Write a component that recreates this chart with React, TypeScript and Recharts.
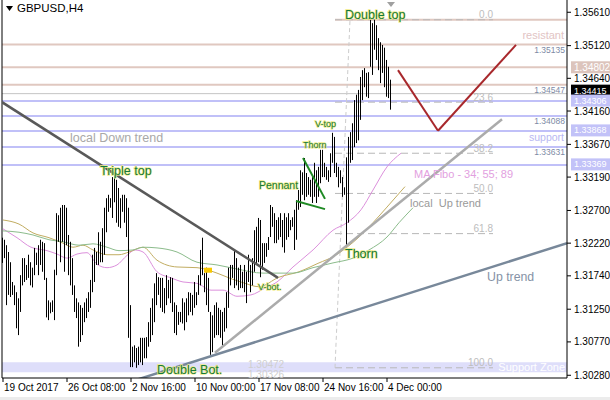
import {
  Bar,
  ComposedChart,
  Line,
  ReferenceArea,
  ReferenceDot,
  ReferenceLine,
  XAxis,
  YAxis,
} from "recharts";

// GBPUSD H4 bars from 19 Oct 2017 00:00, one value per bar
const HIGHS = [
  1.3230, 1.3227, 1.3219, 1.3209, 1.3194, 1.3165, 1.3160, 1.3150, 1.3141, 1.3175,
  1.3200, 1.3200, 1.3190, 1.3205, 1.3194, 1.3186, 1.3215, 1.3208, 1.3219, 1.3227,
  1.3224, 1.3222, 1.3171, 1.3138, 1.3135, 1.3138, 1.3183, 1.3266, 1.3263, 1.3274,
  1.3278, 1.3278, 1.3274, 1.3234, 1.3224, 1.3200, 1.3160, 1.3141, 1.3135, 1.3131,
  1.3127, 1.3135, 1.3141, 1.3150, 1.3168, 1.3205, 1.3215, 1.3209, 1.3238, 1.3224,
  1.3244, 1.3274, 1.3288, 1.3293, 1.3288, 1.3319, 1.3322, 1.3315, 1.3303, 1.3288,
  1.3293, 1.3293, 1.3288, 1.3274, 1.3131, 1.3070, 1.3072, 1.3068, 1.3070, 1.3083,
  1.3083, 1.3083, 1.3084, 1.3106, 1.3127, 1.3141, 1.3163, 1.3178, 1.3172, 1.3171,
  1.3171, 1.3156, 1.3175, 1.3168, 1.3172, 1.3171, 1.3135, 1.3131, 1.3121, 1.3121,
  1.3141, 1.3135, 1.3141, 1.3150, 1.3149, 1.3146, 1.3165, 1.3150, 1.3175, 1.3212,
  1.3230, 1.3178, 1.3186, 1.3171, 1.3121, 1.3116, 1.3131, 1.3135, 1.3127, 1.3124,
  1.3121, 1.3127, 1.3150, 1.3186, 1.3190, 1.3190, 1.3212, 1.3200, 1.3186, 1.3190,
  1.3180, 1.3190, 1.3180, 1.3205, 1.3190, 1.3200, 1.3241, 1.3246, 1.3259, 1.3256,
  1.3222, 1.3222, 1.3222, 1.3231, 1.3278, 1.3275, 1.3266, 1.3256, 1.3260, 1.3266,
  1.3256, 1.3266, 1.3260, 1.3266, 1.3256, 1.3260, 1.3271, 1.3285, 1.3300, 1.3329,
  1.3326, 1.3347, 1.3325, 1.3319, 1.3315, 1.3319, 1.3340, 1.3329, 1.3334, 1.3359,
  1.3359, 1.3340, 1.3334, 1.3329, 1.3354, 1.3384, 1.3378, 1.3340, 1.3334, 1.3329,
  1.3319, 1.3304, 1.3348, 1.3378, 1.3385, 1.3398, 1.3432, 1.3440, 1.3447, 1.3466,
  1.3476, 1.3479, 1.3472, 1.3473, 1.3550, 1.3545, 1.3550, 1.3542, 1.3523, 1.3517,
  1.3513, 1.3509, 1.3491, 1.3481, 1.3462,
];
const LOWS = [
  1.3193, 1.3200, 1.3131, 1.3146, 1.3143, 1.3146, 1.3131, 1.3097, 1.3087, 1.3121,
  1.3160, 1.3165, 1.3168, 1.3171, 1.3160, 1.3157, 1.3175, 1.3190, 1.3175, 1.3190,
  1.3180, 1.3168, 1.3113, 1.3109, 1.3119, 1.3121, 1.3109, 1.3175, 1.3224, 1.3194,
  1.3224, 1.3180, 1.3219, 1.3175, 1.3160, 1.3146, 1.3121, 1.3112, 1.3070, 1.3077,
  1.3087, 1.3106, 1.3112, 1.3121, 1.3127, 1.3150, 1.3165, 1.3190, 1.3190, 1.3194,
  1.3194, 1.3205, 1.3238, 1.3268, 1.3274, 1.3259, 1.3282, 1.3252, 1.3246, 1.3244,
  1.3268, 1.3252, 1.3231, 1.3083, 1.3040, 1.3040, 1.3047, 1.3039, 1.3043, 1.3047,
  1.3043, 1.3053, 1.3053, 1.3070, 1.3077, 1.3087, 1.3106, 1.3131, 1.3146, 1.3127,
  1.3121, 1.3119, 1.3131, 1.3141, 1.3134, 1.3121, 1.3090, 1.3087, 1.3102, 1.3106,
  1.3104, 1.3094, 1.3106, 1.3116, 1.3121, 1.3116, 1.3127, 1.3131, 1.3146, 1.3160,
  1.3175, 1.3150, 1.3131, 1.3121, 1.3058, 1.3062, 1.3083, 1.3087, 1.3087, 1.3083,
  1.3072, 1.3092, 1.3097, 1.3127, 1.3160, 1.3171, 1.3156, 1.3160, 1.3153, 1.3156,
  1.3156, 1.3150, 1.3134, 1.3165, 1.3150, 1.3160, 1.3180, 1.3190, 1.3194, 1.3172,
  1.3183, 1.3193, 1.3202, 1.3212, 1.3231, 1.3246, 1.3222, 1.3222, 1.3227, 1.3231,
  1.3216, 1.3208, 1.3227, 1.3231, 1.3241, 1.3246, 1.3212, 1.3227, 1.3271, 1.3275,
  1.3293, 1.3285, 1.3290, 1.3293, 1.3290, 1.3281, 1.3290, 1.3281, 1.3290, 1.3310,
  1.3319, 1.3319, 1.3315, 1.3312, 1.3319, 1.3340, 1.3325, 1.3319, 1.3304, 1.3310,
  1.3290, 1.3293, 1.3219, 1.3252, 1.3340, 1.3344, 1.3363, 1.3369, 1.3373, 1.3403,
  1.3432, 1.3451, 1.3437, 1.3435, 1.3481, 1.3469, 1.3506, 1.3491, 1.3476, 1.3457,
  1.3472, 1.3451, 1.3437, 1.3435, 1.3418,
];

const DATE_TICKS = [0, 32, 64, 96, 128, 160, 192];
const DATE_LABELS = [
  "19 Oct 2017",
  "26 Oct 08:00",
  "2 Nov 16:00",
  "10 Nov 00:00",
  "17 Nov 08:00",
  "24 Nov 16:00",
  "4 Dec 00:00",
];
const PRICE_TICKS = [
  1.3028, 1.3077, 1.3125, 1.3174, 1.3222, 1.327, 1.3319, 1.3367, 1.3416, 1.3464, 1.3512, 1.3561,
];

// MA Fibo 34 / 55 / 89 as [bar, price]
const MA34 = [
  [0, 1.3243], [7, 1.323], [14, 1.3216], [22, 1.3211], [27, 1.3206], [32, 1.32], [37, 1.3206],
  [42, 1.3208], [47, 1.3191], [52, 1.3186], [57, 1.319], [62, 1.3204], [66, 1.3212], [70, 1.3209],
  [77, 1.318], [84, 1.3171], [90, 1.3165], [97, 1.3163], [104, 1.3153], [110, 1.3153],
  [117, 1.3144], [124, 1.3146], [131, 1.3156], [137, 1.3165], [145, 1.3187], [155, 1.3212],
  [165, 1.3241], [172, 1.3252], [179, 1.3271], [185, 1.33], [192, 1.3334], [199, 1.3354],
];
const MA55 = [
  [0, 1.3256], [8, 1.325], [15, 1.3237], [23, 1.323], [30, 1.3222], [35, 1.3216], [40, 1.3219],
  [45, 1.3212], [52, 1.3205], [58, 1.3205], [63, 1.3209], [70, 1.3216], [77, 1.3197], [87, 1.3187],
  [97, 1.3186], [107, 1.3178], [113, 1.3171], [120, 1.3164], [128, 1.3158], [138, 1.3172],
  [148, 1.318], [158, 1.3193], [165, 1.3202], [172, 1.3216], [178, 1.3231], [185, 1.3252],
  [192, 1.3275], [201, 1.3305],
];
const MA89 = [
  [0, 1.324], [8, 1.3238], [15, 1.3234], [23, 1.3227], [30, 1.3224], [38, 1.3219], [45, 1.3221],
  [52, 1.3216], [58, 1.3211], [65, 1.3212], [70, 1.3216], [77, 1.3215], [87, 1.3209], [97, 1.3194],
  [107, 1.319], [117, 1.3184], [130, 1.3178], [145, 1.3178], [155, 1.3186], [165, 1.3193],
  [175, 1.32], [183, 1.3212], [192, 1.3231], [198, 1.3252], [205, 1.3274],
];

const RESIST_LEVELS = [1.35135, 1.34802, 1.34547];
const SUPPORT_LEVELS = [1.34306, 1.34088, 1.33868, 1.33631, 1.33369];
const BID = 1.34415;
const SUPPORT_ZONE = [1.30326, 1.30472];
const INLINE_TAGS = [1.35135, 1.34547, 1.34088, 1.33631];
const LAVENDER_TAGS = [1.34306, 1.33868, 1.33369];
const PINK_TAG = 1.34802;

// Fibo from the 24 Nov low to the double top
const FIB_ANCHORS = [[166, 1.3039], [173.5, 1.355]];
const FIB_END = 245;
const FIB_NAMES = ["0.0", "23.6", "38.2", "50.0", "61.8", "100.0"];
const FIB_PRICES = [1.355, 1.3429, 1.3354, 1.3295, 1.3236, 1.3039];

// hand-drawn lines, [bar, price]
const DOWN_TREND = [[-0.5, 1.3429], [137.5, 1.3171]];
const UP_TREND = [[61, 1.3016], [282, 1.3222]];
const LOCAL_UP = [[106, 1.3061], [249.5, 1.3404]];
const PROJECTION = [[197.5, 1.3476], [217.5, 1.3387], [256.5, 1.3513]];
const PENNANT_TOP = [[150, 1.3347], [161, 1.3287]];
const PENNANT_BOTTOM = [[146.5, 1.3284], [161, 1.3272]];

type NoteKind = "pattern" | "patternMid" | "patternSmall" | "gray" | "grayS" | "slate" | "ma";
const NOTES: { x: number; y: number; text: string; kind: NoteKind }[] = [
  { x: 171, y: 1.3557, text: "Double top", kind: "pattern" },
  { x: 48.5, y: 1.3328, text: "Triple top", kind: "pattern" },
  { x: 77, y: 1.3036, text: "Double Bot.", kind: "pattern" },
  { x: 171, y: 1.3206, text: "Thorn", kind: "pattern" },
  { x: 128, y: 1.3307, text: "Pennant", kind: "patternMid" },
  { x: 150, y: 1.3366, text: "Thorn", kind: "patternSmall" },
  { x: 156, y: 1.3397, text: "V-top", kind: "patternSmall" },
  { x: 127.5, y: 1.3158, text: "V-bot.", kind: "patternSmall" },
  { x: 33.5, y: 1.3376, text: "local Down trend", kind: "gray" },
  { x: 203.5, y: 1.3281, text: "local  Up trend", kind: "grayS" },
  { x: 242, y: 1.3172, text: "Up trend", kind: "slate" },
  { x: 205.5, y: 1.3324, text: "MA Fibo - 34; 55; 89", kind: "ma" },
];

const GREEN_TEXT = { fill: "#137a3e", stroke: "#f2ec8a", strokeWidth: 1.3, paintOrder: "stroke" as const };
const NOTE_STYLE: Record<NoteKind, Record<string, unknown>> = {
  pattern: { fontSize: 12.5, ...GREEN_TEXT },
  patternMid: { fontSize: 10.5, ...GREEN_TEXT },
  patternSmall: { fontSize: 9, ...GREEN_TEXT },
  gray: { fontSize: 12.5, fill: "#a8a8a8" },
  grayS: { fontSize: 11, fill: "#9a9a9a" },
  slate: { fontSize: 12.3, fill: "#8592a6" },
  ma: { fontSize: 11, fill: "#e2a0e0" },
};

const X_DOMAIN = [-0.5, 282];
const Y_DOMAIN = [1.3024, 1.3579];
const FONT = "'Liberation Sans', Arial, sans-serif";

const bars = HIGHS.map((h, i) => ({ i, range: [LOWS[i], h] }));
const toRows = (pts: number[][]) => pts.map(([i, v]) => ({ i, v }));
const seg = (a: number[], b: number[]) => [
  { x: a[0], y: a[1] },
  { x: b[0], y: b[1] },
];

const textAt =
  (text: string, style: object, anchor: "start" | "end", dx: number, dy: number) =>
  (p: { cx: number; cy: number }) => (
    <text
      x={p.cx + dx}
      y={p.cy + dy}
      textAnchor={anchor}
      dominantBaseline="central"
      style={{ fontFamily: FONT, whiteSpace: "pre", ...style }}
    >
      {text}
    </text>
  );

const boxAt =
  (text: string, fill: string, shift = 0, size = 10) =>
  (p: { cx: number; cy: number }) => (
    <g>
      <rect x={p.cx + 4} y={p.cy - 6 + shift} width={40} height={12} fill={fill} />
      <text
        x={p.cx + 7}
        y={p.cy + shift}
        dominantBaseline="central"
        style={{ fontFamily: FONT, fontSize: size, fill: "#fff" }}
      >
        {text}
      </text>
    </g>
  );

const DateTick = (props: { x: number; y: number; payload: { value: number } }) => {
  const { x, y, payload } = props;
  return (
    <text x={x + 1} y={y} dy={7} textAnchor="start" style={{ fontFamily: FONT, fontSize: 10, fill: "#000" }}>
      {DATE_LABELS[DATE_TICKS.indexOf(payload.value)]}
    </text>
  );
};

export default function App() {
  return (
    <div style={{ position: "relative", width: 610, height: 400, background: "#fff", fontFamily: FONT }}>
      <style>{"body{margin:0}"}</style>
      <div
        style={{
          position: "absolute",
          left: 6,
          top: 2,
          fontSize: 11.5,
          color: "#000",
          zIndex: 2,
          display: "flex",
          alignItems: "center",
          gap: 4,
        }}
      >
        <svg width={7} height={5}>
          <polygon points="0,0 7,0 3.5,5" fill="#000" />
        </svg>
        <span>GBPUSD,H4</span>
      </div>
      <ComposedChart width={610} height={400} data={bars} margin={{ top: 0, right: 0, bottom: 0, left: 2 }}>
        <XAxis
          type="number"
          dataKey="i"
          domain={X_DOMAIN}
          allowDataOverflow
          ticks={DATE_TICKS}
          tick={DateTick}
          tickSize={4}
          height={22}
          stroke="#000"
          interval={0}
        />
        <YAxis
          orientation="right"
          type="number"
          domain={Y_DOMAIN}
          allowDataOverflow
          ticks={PRICE_TICKS}
          tickFormatter={(v: number) => v.toFixed(5)}
          tick={{ fill: "#000", fontSize: 10, fontFamily: FONT }}
          tickSize={4}
          tickMargin={3}
          width={43}
          stroke="#000"
          interval={0}
        />

        <ReferenceArea y1={SUPPORT_ZONE[0]} y2={SUPPORT_ZONE[1]} fill="#dedefa" fillOpacity={1} stroke="none" zIndex={10} />
        {RESIST_LEVELS.map((p) => (
          <ReferenceLine key={p} y={p} stroke="#e0c8c0" strokeWidth={2} zIndex={20} />
        ))}
        <ReferenceLine
          segment={seg([FIB_ANCHORS[0][0], FIB_PRICES[0]], [X_DOMAIN[1], FIB_PRICES[0]])}
          stroke="#e0c8c0"
          strokeWidth={2}
          zIndex={20}
        />
        <ReferenceLine y={BID} stroke="#c4c4c4" zIndex={20} />
        {SUPPORT_LEVELS.map((p) => (
          <ReferenceLine key={p} y={p} stroke="#c0c0f8" strokeWidth={2} zIndex={20} />
        ))}
        {FIB_PRICES.map((p) => (
          <ReferenceLine
            key={p}
            segment={seg([FIB_ANCHORS[0][0], p], [FIB_END, p])}
            stroke="#b8b8b8"
            strokeDasharray="7 4"
            zIndex={30}
          />
        ))}
        <ReferenceLine
          segment={seg(FIB_ANCHORS[0], FIB_ANCHORS[1])}
          stroke="#cccccc"
          strokeDasharray="4 3"
          zIndex={30}
        />
        <ReferenceLine x={X_DOMAIN[0]} stroke="#000" zIndex={30} />

        <Line data={toRows(MA34)} dataKey="v" type="monotone" stroke="#dc90dc" strokeWidth={1} dot={false} isAnimationActive={false} zIndex={250} />
        <Line data={toRows(MA55)} dataKey="v" type="monotone" stroke="#c2ad62" strokeWidth={1} dot={false} isAnimationActive={false} zIndex={250} />
        <Line data={toRows(MA89)} dataKey="v" type="monotone" stroke="#8cbc8c" strokeWidth={1} dot={false} isAnimationActive={false} zIndex={250} />

        <Bar
          dataKey="range"
          barSize={1}
          isAnimationActive={false}
          shape={(p: { x: number; y: number; width: number; height: number }) => (
            <rect x={Math.round(p.x + p.width / 2 - 0.5)} y={p.y} width={1} height={Math.max(p.height, 1)} fill="#000" />
          )}
        />

        <ReferenceLine segment={seg(DOWN_TREND[0], DOWN_TREND[1])} stroke="#595959" strokeWidth={2.5} ifOverflow="hidden" zIndex={450} />
        <ReferenceLine segment={seg(UP_TREND[0], UP_TREND[1])} stroke="#78889a" strokeWidth={2.5} ifOverflow="hidden" zIndex={450} />
        <ReferenceLine segment={seg(LOCAL_UP[0], LOCAL_UP[1])} stroke="#ababab" strokeWidth={2.5} ifOverflow="hidden" zIndex={450} />
        <ReferenceLine segment={seg(PROJECTION[0], PROJECTION[1])} stroke="#a8282c" strokeWidth={2} zIndex={450} />
        <ReferenceLine segment={seg(PROJECTION[1], PROJECTION[2])} stroke="#a8282c" strokeWidth={2} zIndex={450} />
        <ReferenceLine segment={seg(PENNANT_TOP[0], PENNANT_TOP[1])} stroke="#1f8a24" strokeWidth={2} zIndex={450} />
        <ReferenceLine segment={seg(PENNANT_BOTTOM[0], PENNANT_BOTTOM[1])} stroke="#1f8a24" strokeWidth={2} zIndex={450} />

        <ReferenceDot
          x={102.5}
          y={1.3183}
          ifOverflow="visible"
          zIndex={600}
          shape={(p: { cx: number; cy: number }) => <rect x={p.cx - 4} y={p.cy - 2} width={8} height={5} fill="#f8c800" />}
        />
        <ReferenceDot
          x={HIGHS.length - 1}
          y={Y_DOMAIN[1]}
          ifOverflow="visible"
          zIndex={600}
          shape={(p: { cx: number; cy: number }) => (
            <polygon points={`${p.cx - 4},${p.cy + 2} ${p.cx + 4},${p.cy + 2} ${p.cx},${p.cy + 7}`} fill="#a0a0a0" />
          )}
        />

        {NOTES.map((n) => (
          <ReferenceDot
            key={n.text + n.x}
            x={n.x}
            y={n.y}
            ifOverflow="visible"
            zIndex={2000}
            shape={textAt(n.text, NOTE_STYLE[n.kind], "start", 0, 0)}
          />
        ))}
        {FIB_NAMES.map((name, k) => (
          <ReferenceDot
            key={name}
            x={FIB_END}
            y={FIB_PRICES[k]}
            ifOverflow="visible"
            zIndex={2000}
            shape={textAt(name, { fontSize: 10, fill: "#bdbdbd" }, "end", 0, -5)}
          />
        ))}
        {SUPPORT_ZONE.map((p) => (
          <ReferenceDot
            key={p}
            x={122.5}
            y={p}
            ifOverflow="visible"
            zIndex={2000}
            shape={textAt(p.toFixed(5), { fontSize: 10, fill: "#cfcfcf" }, "start", 0, 2)}
          />
        ))}
        {INLINE_TAGS.map((p) => (
          <ReferenceDot
            key={p}
            x={X_DOMAIN[1]}
            y={p}
            ifOverflow="visible"
            zIndex={2000}
            shape={textAt(p.toFixed(5), { fontSize: 8.5, fill: "#7d8aa4" }, "end", -2, 5)}
          />
        ))}
        <ReferenceDot x={X_DOMAIN[1]} y={1.3528} ifOverflow="visible" zIndex={2000} shape={textAt("resistant", { fontSize: 11, fill: "#e2c4c4" }, "end", -3, 0)} />
        <ReferenceDot x={X_DOMAIN[1]} y={1.3378} ifOverflow="visible" zIndex={2000} shape={textAt("support", { fontSize: 10.5, fill: "#b8b8f2" }, "end", -3, 0)} />
        <ReferenceDot x={X_DOMAIN[1]} y={1.304} ifOverflow="visible" zIndex={2000} shape={textAt("Support Zone", { fontSize: 11, fill: "#ffffff" }, "end", -2, 0)} />

        <ReferenceDot x={X_DOMAIN[1]} y={BID} ifOverflow="visible" zIndex={2100} shape={boxAt(BID.toFixed(5), "#000", -3, 9)} />
        <ReferenceDot x={X_DOMAIN[1]} y={PINK_TAG} ifOverflow="visible" zIndex={2100} shape={boxAt(PINK_TAG.toFixed(5), "#dcc4bc")} />
        {LAVENDER_TAGS.map((p) => (
          <ReferenceDot key={p} x={X_DOMAIN[1]} y={p} ifOverflow="visible" zIndex={2100} shape={boxAt(p.toFixed(5), "#c2c2f8", -0.5, 9)} />
        ))}
      </ComposedChart>
      <div style={{ position: "absolute", left: 0, bottom: 0, width: 610, height: 3, background: "#ececec" }} />
    </div>
  );
}
